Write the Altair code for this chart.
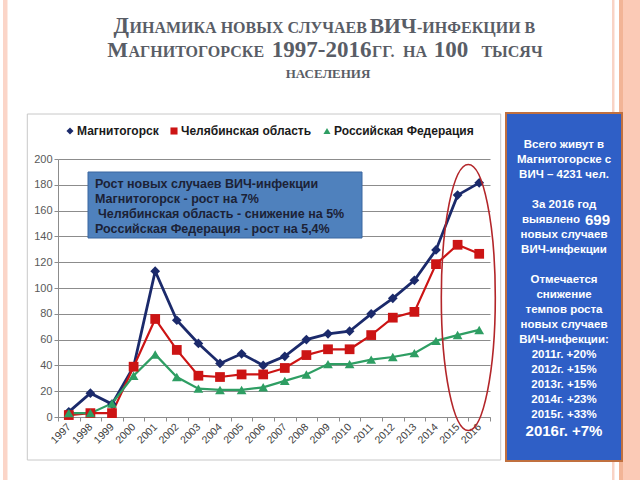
import altair as alt
import pandas as pd

# ---------------- data ----------------
years = [str(y) for y in range(1997, 2017)]
series_names = ["Магнитогорск", "Челябинская область", "Российская Федерация"]
magnitogorsk = [4, 18.5, 10, 39, 113, 75, 57, 41.5, 49, 40, 47, 60, 64.5, 66.5, 80, 92, 106, 129.5, 172, 181.5]
chelyabinsk = [1.5, 3, 3, 39, 76, 52, 32, 31, 33, 33, 38, 48, 52.5, 52.5, 63.5, 77, 81.5, 118.5, 133.5, 126.5]
russia = [3, 3, 10.5, 32, 48.5, 31, 22, 21, 21, 23, 28, 33, 41, 41, 44.5, 46.5, 49.5, 59, 63.5, 67.5]
y_ticks = [0, 20, 40, 60, 80, 100, 120, 140, 160, 180, 200]

series_colors = ["#1b2a6b", "#cc1414", "#2e9e63"]
series_shapes = ["diamond", "square", "triangle-up"]
series_widths = [2.8, 2.2, 2.2]

rows = []
for name, vals in zip(series_names, [magnitogorsk, chelyabinsk, russia]):
    for yr, v in zip(years, vals):
        rows.append({"year": yr, "series": name, "value": v})
df = pd.DataFrame(rows)

box_lines = [
    "Рост новых случаев  ВИЧ-инфекции",
    "Магнитогорск -  рост  на 7%",
    "Челябинская область - снижение на 5%",
    "Российская Федерация - рост на 5,4%",
]

side_lines = [
    ("Всего живут в", 145, 11.5),
    ("Магнитогорске с", 160, 11.5),
    ("ВИЧ – 4231 чел.", 175, 11.5),
    ("За  2016 год", 205, 11.5),
    ("новых случаев", 235, 11.5),
    ("ВИЧ-инфекции", 250, 11.5),
    ("Отмечается", 280, 11.5),
    ("снижение", 295, 11.5),
    ("темпов роста", 310, 11.5),
    ("новых случаев", 325, 11.5),
    ("ВИЧ-инфекции:", 340, 11.5),
    ("2011г. +20%", 355, 11.5),
    ("2012г. +15%", 370, 11.5),
    ("2013г. +15%", 385, 11.5),
    ("2014г. +23%", 400, 11.5),
    ("2015г. +33%", 415, 11.5),
    ("2016г. +7%", 431, 15),
]

# (text, x anchor, baseline y, font size, align)
title_parts = [
    ("Д", 129, 33, 22.5, "right"), ("ИНАМИКА НОВЫХ СЛУЧАЕВ", 129.5, 33, 16, "left"),
    ("ВИЧ", 416.5, 33, 21.5, "right"), ("-ИНФЕКЦИИ В", 417, 33, 16, "left"),
    ("М", 128, 57, 22, "right"), ("АГНИТОГОРСКЕ", 128.5, 57, 16, "left"),
    ("1997-2016", 371.5, 57, 23, "right"), ("ГГ.", 372, 57, 16, "left"),
    ("НА", 415, 57, 16, "center"),
    ("100", 451, 57, 23, "center"), ("ТЫСЯЧ", 512, 57, 16, "center"),
    ("НАСЕЛЕНИЯ", 328, 78, 13, "center"),
]

# ---------------- layout ----------------
OX, OY = 58, 159          # plot origin on the page
PW, PH = 432, 258         # plot size

def px(x):
    return x - OX

def py(y):
    return y - OY

one = pd.DataFrame({"k": [0]})

def rect(x1, y1, x2, y2, **kw):
    return alt.Chart(one).mark_rect(**kw).encode(
        x=alt.value(px(x1)), x2=alt.value(px(x2)),
        y=alt.value(py(y1)), y2=alt.value(py(y2)))

def text(t, x, y, **kw):
    return alt.Chart(one).mark_text(text=t, **kw).encode(
        x=alt.value(px(x)), y=alt.value(py(y)))

layers = []

# decorative stripes
layers.append(rect(3, 0, 7.5, 480, color="#fbd5c8"))
layers.append(rect(612, 0, 614.5, 480, color="#f9d3c5"))
layers.append(rect(619, 0, 623, 480, color="#f2b496"))
layers.append(rect(623, 0, 640, 480, color="#fbcab6"))

# chart frame
layers.append(rect(27.3, 114, 500.7, 460, fillOpacity=0, stroke="#c8c8c8", strokeWidth=1))

legend = alt.Legend(
    orient="none", legendX=6, legendY=-34, direction="horizontal",
    labelFont="Liberation Sans", labelFontSize=12, labelFontWeight="bold",
    labelColor="#1a1a1a", symbolSize=50, labelOffset=1, columnPadding=9,
    padding=0, symbolStrokeWidth=0,
)

x_enc = alt.X(
    "year:O", sort=years,
    scale=alt.Scale(type="band", paddingInner=0, paddingOuter=0),
    axis=alt.Axis(
        title=None, tickBand="extent", labelAngle=-45, labelAlign="right",
        labelBaseline="middle", labelFont="Liberation Sans", labelFontSize=10.5,
        labelColor="#404040", domainColor="#8c8c8c", tickColor="#8c8c8c",
        tickSize=4, labelPadding=4, grid=False,
    ),
)
y_enc = alt.Y(
    "value:Q", scale=alt.Scale(domain=[0, 200], nice=False),
    axis=alt.Axis(
        title=None, values=y_ticks, grid=True, gridColor="#8c8c8c",
        domainColor="#8c8c8c", tickColor="#8c8c8c", tickSize=4,
        labelFont="Liberation Sans", labelFontSize=11, labelColor="#595959",
        labelPadding=2,
    ),
)

for name, col, w in zip(series_names, series_colors, series_widths):
    layers.append(
        alt.Chart(df).transform_filter(alt.datum.series == name)
        .mark_line(color=col, strokeWidth=w)
        .encode(x=x_enc, y=y_enc)
    )

points = alt.Chart(df).mark_point(filled=True, opacity=1, size=95).encode(
    x=x_enc, y=y_enc,
    color=alt.Color("series:N", scale=alt.Scale(domain=series_names, range=series_colors), title=None, legend=legend),
    shape=alt.Shape("series:N", scale=alt.Scale(domain=series_names, range=series_shapes), title=None, legend=legend),
)
layers.append(points)

# inner annotation box
layers.append(rect(88, 172, 362, 238, color="#4f81bd", stroke="#3a66a0", strokeWidth=1))
for i, t in enumerate(box_lines):
    layers.append(text(t, 95 + (3 if i == 2 else 0), 184 + 15 * i, align="left", baseline="middle",
                       font="Liberation Sans", fontSize=12.5, fontWeight="bold", color="#1c2236"))

# red ellipse
ellipse_path = "M -0.203 0 A 0.203 1 0 1 0 0.203 0 A 0.203 1 0 1 0 -0.203 0 Z"
layers.append(alt.Chart(one).mark_point(shape=ellipse_path, size=266 * 266, filled=False,
                                        color="#b3262a", strokeWidth=1.6, opacity=1).encode(
    x=alt.value(px(468.3)), y=alt.value(py(297.5))))

# right info box
layers.append(rect(506, 113, 622, 461, color="#2f5fc6", stroke="#c0703f", strokeWidth=2))
for t, y, s in side_lines:
    layers.append(text(t, 564, y, align="center", baseline="middle", font="Liberation Sans",
                       fontSize=s, fontWeight="bold", color="white"))
layers.append(text("выявлено", 580, 220, align="right", baseline="middle", font="Liberation Sans",
                   fontSize=11.5, fontWeight="bold", color="white"))
layers.append(text("699", 585, 220, align="left", baseline="middle", font="Liberation Sans",
                   fontSize=15, fontWeight="bold", color="white"))

# title
for t, x, y, s, a in title_parts:
    layers.append(text(t, x, y, align=a, baseline="alphabetic", font="Liberation Serif",
                       fontSize=s, fontWeight="bold", color="#595d66"))

chart = alt.layer(*layers).properties(
    width=PW, height=PH,
    autosize=alt.AutoSizeParams(type="none"),
    padding={"left": OX, "top": OY, "right": 640 - OX - PW, "bottom": 480 - OY - PH},
    background="white",
).configure_view(stroke=None)

chart.save("out.html", embed_options={"renderer": "svg", "actions": False})
